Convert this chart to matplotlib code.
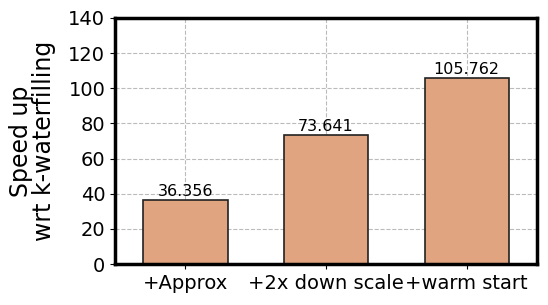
import matplotlib
matplotlib.use("Agg")
import matplotlib.pyplot as plt

# --- Data ---------------------------------------------------------------
methods = ["+Approx", "+2x down scale", "+warm start"]
speedup = [36.356, 73.641, 105.762]

# --- Plot ---------------------------------------------------------------
fig = plt.figure(figsize=(5.48, 3.05), dpi=100)
ax = fig.add_axes([0.21, 0.134, 0.77, 0.807])

x = range(len(methods))
bars = ax.bar(x, speedup, width=0.6, color="#E0A480", edgecolor="#222222", linewidth=1.2, zorder=2)
for rect, v in zip(bars, speedup):
    ax.text(rect.get_x() + rect.get_width() / 2, v + 0.5, f"{v:.3f}",
            ha="center", va="bottom", fontsize=11.5, zorder=3)

ax.set_xticks(list(x))
ax.set_xticklabels(methods, fontsize=14)
ax.set_xlim(-0.5, 2.5)
ax.set_ylim(0, 140)
ax.set_yticks(range(0, 141, 20))
ax.tick_params(axis="y", labelsize=14)
ax.set_ylabel("Speed up\nwrt k-waterfilling", fontsize=17, linespacing=0.95, labelpad=9)
ax.grid(True, linestyle="--", color="#bbbbbb", linewidth=0.8)
ax.set_axisbelow(True)
for s in ax.spines.values():
    s.set_linewidth(2.5)

fig.savefig("out.png", dpi=100)
